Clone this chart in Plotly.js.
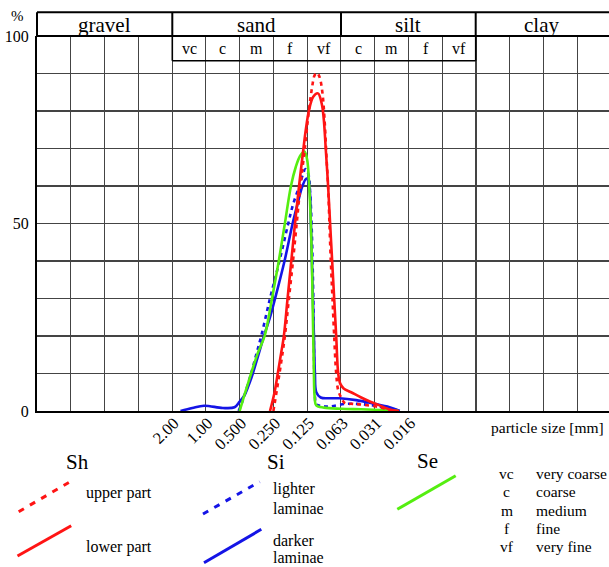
<!DOCTYPE html>
<html>
<head>
<meta charset="utf-8">
<script src="https://cdn.plot.ly/plotly-3.0.1.min.js"></script>
<style>
html,body{margin:0;padding:0;overflow:hidden;background:#fff;}
#chart{width:609px;height:567px;}
</style>
</head>
<body>
<div id="chart"></div>
<script>
// ---- Data (x in phi units: phi = -log2(particle size in mm); y in %) ----
const phiShLower = [1.90,2.03,2.13,2.23,2.31,2.42,2.53,2.64,2.76,2.89,2.96,3.05,3.18,3.32,3.43,3.49,3.55,3.62,3.68,3.74,3.80,3.86,3.92,3.98,4.08,4.30,4.60,4.84,5.04,5.42,5.72];
const pctShLower = [0,4.8,10,15.5,20,30,40,50,60,70,75,80,83.8,84.7,82,78,70,60,50,40,30,20,10,7.3,6.0,5.0,3.6,2.6,1.9,0.5,0];

const phiShUpper = [2.00,2.18,2.34,2.46,2.58,2.69,2.80,2.93,3.05,3.14,3.22,3.29,3.37,3.45,3.52,3.57,3.62,3.66,3.70,3.75,3.80,3.86,3.92,4.02,4.12,4.35,4.64,5.14,5.50];
const pctShUpper = [0,10,20,30,40,50,60,70,80,86,89.5,90.2,89,85,77,68,60,50,40,30,20,10,5.5,3.4,2.1,1.9,1.7,1.0,0];

const phiSe = [1.00,1.15,1.34,1.54,1.74,1.96,2.16,2.34,2.52,2.66,2.79,2.92,3.00,3.06,3.11,3.14,3.16,3.18,3.20,3.22,3.27,3.50,4.00,4.60,5.30,5.70];
const pctSe = [0,4.5,10,15.5,20,30,40,50,60,65,68,69.2,67,60,50,40,30,20,10,4,1.5,0.9,0.6,0.45,0.25,0];

const phiSiDark = [-0.75,-0.40,-0.05,0.50,0.85,1.00,1.15,1.29,1.39,1.54,1.72,1.90,2.05,2.33,2.57,2.71,2.86,2.98,3.06,3.11,3.14,3.17,3.20,3.23,3.27,3.40,3.66,3.96,4.45,4.95,5.44,5.74];
const pctSiDark = [0,0.8,1.4,0.8,1.0,2.5,4.3,7.4,10,14.5,20,25,30,40,50,55,60,62,60,50,40,30,20,10,5,3.6,3.4,3.4,2.9,2.0,1.0,0];

const phiSiLight = [0.97,1.10,1.34,1.49,1.64,1.90,2.18,2.44,2.58,2.77,2.95,3.04,3.09,3.13,3.16,3.19,3.21,3.23,3.27,3.45,3.66,4.15,4.64,5.14,5.63,5.75];
const pctSiLight = [0,3,10,15,20,30,40,50,55,60,64.5,63,58,50,40,25,10,4,1.8,1.3,1.2,1.9,1.8,1.2,0.3,0];

const xTickVals = [-5,-4,-3,-2,-1,0,1,2,3,4,5,6,7,8,9,10,11];
const xTickText = ['','','','','2.00','1.00','0.500','0.250','0.125','0.063','0.031','0.016','','','','',''];
const yTickVals = [0,10,20,30,40,50,60,70,80,90,100];
const yTickText = ['0','','','','','50','','','','','100'];

const classNames = ['gravel','sand','silt','clay'];
const subNames = ['vc','c','m','f','vf','c','m','f','vf'];
const keyAbbr = ['vc','c','m','f','vf'];
const keyName = ['very coarse','coarse','medium','fine','very fine'];

// ---- Styling ----
const FONT = 'Liberation Serif, Times New Roman, serif';
const RED = '#ff1414', BLUE = '#1414e6', GREEN = '#55ee10';
const L = 37, R = 609, T = 36, B = 411;
const px = x => (x - L) / (R - L);
const py = y => (B - y) / (B - T);

function curve(x, y, color, dash){
  return {x:x, y:y, type:'scatter', mode:'lines', hoverinfo:'skip',
    line:{color:color, width:2.6, dash:dash, shape:'spline', smoothing:1}};
}
const traces = [
  curve(phiSiLight, pctSiLight, BLUE, '4px,4px'),
  curve(phiSiDark, pctSiDark, BLUE, 'solid'),
  curve(phiSe, pctSe, GREEN, 'solid'),
  curve(phiShUpper, pctShUpper, RED, '4px,4px'),
  curve(phiShLower, pctShLower, RED, 'solid')
];

const shapes = [];
const ann = [];
function pline(x0,y0,x1,y1,w,color,dash){
  shapes.push({type:'line', xref:'paper', yref:'paper', x0:px(x0), y0:py(y0), x1:px(x1), y1:py(y1),
    line:{color:color||'#000', width:w, dash:dash||'solid'}});
}
function text(t,x,y,size,xanchor){
  ann.push({text:t, xref:'paper', yref:'paper', x:px(x), y:py(y), showarrow:false,
    xanchor:xanchor||'center', yanchor:'middle', font:{family:FONT, size:size, color:'#000'}});
}
// header box
const hTop = 12.3, hBot = 36, sBot = 60.7;
const xs = [37, 172.3, 341, 475.7];
pline(37, hTop, 609, hTop, 2);
pline(37, hBot, 609, hBot, 2);
xs.forEach(x => pline(x, hTop, x, hBot, 2));
pline(172.3, sBot, 475.7, sBot, 1.6);
pline(172.3, hBot, 172.3, sBot, 1.6);
pline(475.7, hBot, 475.7, sBot, 1.6);
const classCx = [104.7, 256.6, 408.4, 541];
classNames.forEach((n,i) => text(n, classCx[i], 24.5, 21));
subNames.forEach((n,i) => text(n, 172.3 + 33.77*(i+0.5), 48.5, 16));
text('%', 17.5, 16.5, 15);
text('particle size [mm]', 489, 428, 15.5, 'left');

// legend
text('Sh', 77, 462, 21);
text('Si', 276, 462, 21);
text('Se', 427.5, 461, 21);
pline(18.7, 511.7, 71.9, 480.7, 3, RED, '6px,7px');
pline(17.5, 556, 71.2, 525.7, 3, RED);
pline(203, 514, 259.7, 481.7, 3, BLUE, '6px,7px');
pline(204, 562.7, 261.3, 529.3, 3, BLUE);
pline(397.3, 509.3, 455.7, 475.7, 3, GREEN);
text('upper part', 83.6, 493.3, 16, 'left');
text('lower part', 83.6, 546.7, 16, 'left');
text('lighter', 271, 489.3, 16, 'left');
text('laminae', 271, 508.3, 16, 'left');
text('darker', 271, 540, 16, 'left');
text('laminae', 271, 557.3, 16, 'left');
keyAbbr.forEach((a,i) => {
  text(a, 506.7, 473.3 + 18.35*i, 15.5);
  text(keyName[i], 534, 473.3 + 18.35*i, 15.5, 'left');
});

const layout = {
  width:609, height:567,
  margin:{l:L, r:0, t:T, b:567-B, pad:0},
  paper_bgcolor:'#fff', plot_bgcolor:'#fff',
  showlegend:false,
  xaxis:{range:[-5, -5 + (R-L)/33.77], tickmode:'array', tickvals:xTickVals, ticktext:xTickText,
    tickangle:-45, showgrid:true, gridcolor:'#444', gridwidth:1.1, zeroline:false,
    showline:true, linecolor:'#000', linewidth:2, ticks:'', ticklabelstandoff:-6, ticklabelshift:2,
    tickfont:{family:FONT, size:16.5, color:'#000'}, fixedrange:true},
  yaxis:{range:[0,100], tickmode:'array', tickvals:yTickVals, ticktext:yTickText,
    showgrid:true, gridcolor:'#444', gridwidth:1.1, zeroline:false,
    showline:true, linecolor:'#000', linewidth:2, ticks:'', ticklabelstandoff:3,
    tickfont:{family:FONT, size:16, color:'#000'}, fixedrange:true},
  shapes:shapes, annotations:ann
};
Plotly.newPlot('chart', traces, layout, {displayModeBar:false, staticPlot:true});
</script>
</body>
</html>
